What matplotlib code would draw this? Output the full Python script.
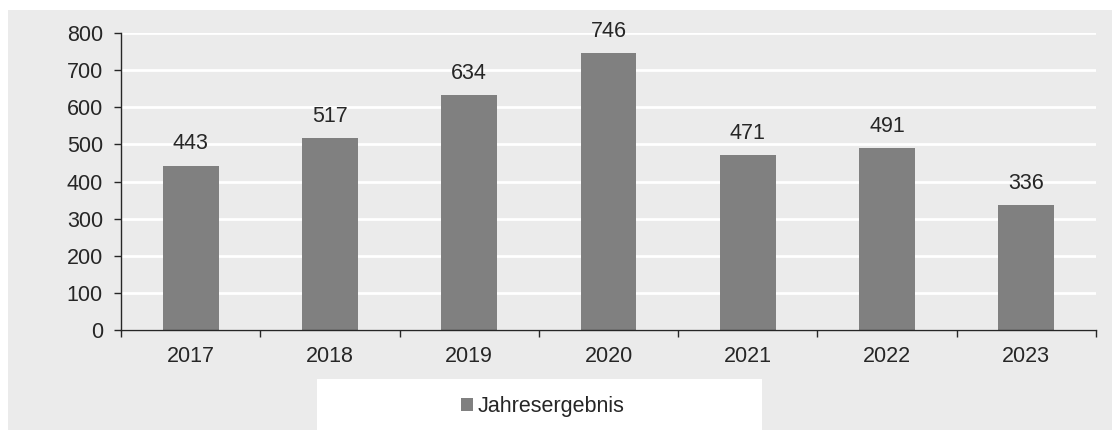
import matplotlib
matplotlib.use("Agg")
import matplotlib.pyplot as plt
from matplotlib.patches import Rectangle, Patch

years = ["2017", "2018", "2019", "2020", "2021", "2022", "2023"]
values = [443, 517, 634, 746, 471, 491, 336]
series_name = "Jahresergebnis"
yticks = [0, 100, 200, 300, 400, 500, 600, 700, 800]

plt.rcParams['font.family'] = ['Liberation Sans', 'DejaVu Sans']
W, H = 1112, 430
fig = plt.figure(figsize=(W / 100, H / 100), dpi=100, facecolor='white')

bg = '#ebebeb'
txt = '#262626'
bar_c = '#808080'
fs = 15.5

fig.patches.append(Rectangle((8 / W, 0), 1 - 8 / W, (H - 10) / H, transform=fig.transFigure,
                             facecolor=bg, edgecolor='none', zorder=-10))

ax = fig.add_axes([121 / W, 100 / H, (1096 - 121) / W, (330 - 33) / H])
ax.set_facecolor(bg)
x = list(range(len(years)))
ax.bar(x, values, width=0.4, color=bar_c, zorder=3)
for xi, v in zip(x, values):
    ax.annotate(str(v), (xi, v), xytext=(0, 8), textcoords='offset points',
                ha='center', va='bottom', fontsize=fs, color=txt)

ax.set_xlim(-0.5, len(years) - 0.5)
ax.set_ylim(0, 800)
ax.set_yticks(yticks)
ax.set_yticklabels([str(t) for t in yticks])
ax.set_xticks(x)
ax.set_xticklabels(years)
ax.set_xticks([i + 0.5 for i in range(-1, len(years))], minor=True)
ax.tick_params(axis='x', which='major', length=0, pad=11.5, labelsize=fs, labelcolor=txt)
ax.tick_params(axis='x', which='minor', length=5, width=1, color=txt, direction='out')
ax.tick_params(axis='y', length=5, width=1, color=txt, pad=8, labelsize=fs, labelcolor=txt)
ax.yaxis.grid(True, color='white', linewidth=2, zorder=0)
ax.set_axisbelow(True)
for s in ['top', 'right']:
    ax.spines[s].set_visible(False)
for s in ['left', 'bottom']:
    ax.spines[s].set_color(txt)
    ax.spines[s].set_linewidth(1)
    ax.spines[s].set_zorder(4)

fig.patches.append(Rectangle((317 / W, 0), (762 - 317) / W, (H - 379) / H, transform=fig.transFigure,
                             facecolor='white', edgecolor='none', zorder=-5))
fig.legend(handles=[Patch(facecolor=bar_c, edgecolor='none', label=series_name)],
           loc='center', bbox_to_anchor=(543 / W, 23.5 / H), frameon=False,
           fontsize=fs, handlelength=0.53, handleheight=0.53, handletextpad=0.25,
           labelcolor=txt)

fig.savefig("out.png", dpi=100, facecolor='white')
